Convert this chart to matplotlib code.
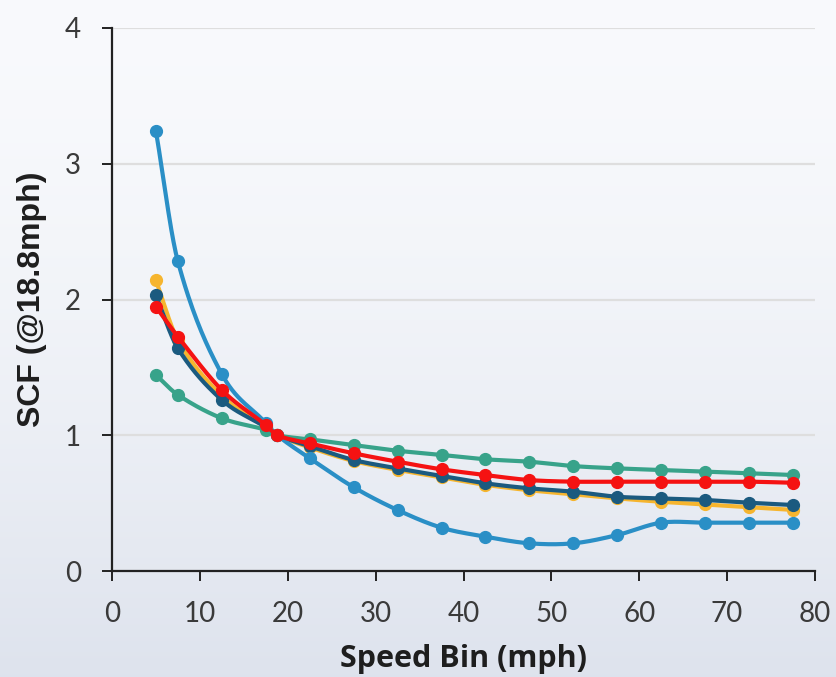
import numpy as np
import matplotlib
matplotlib.use("Agg")
import matplotlib.pyplot as plt

# speed bins (mph); 18.8 is the reference speed where every series = 1
speed = np.array([5, 7.5, 12.5, 17.5, 18.8, 22.5, 27.5, 32.5, 37.5, 42.5,
                  47.5, 52.5, 57.5, 62.5, 67.5, 72.5, 77.5])

scf_yellow = [2.14, 1.70, 1.29, 1.06, 1.0, 0.91, 0.81, 0.745, 0.69, 0.635,
              0.595, 0.565, 0.535, 0.51, 0.49, 0.47, 0.45]
scf_navy = [2.03, 1.64, 1.26, 1.06, 1.0, 0.92, 0.818, 0.756, 0.70, 0.646,
            0.609, 0.584, 0.547, 0.535, 0.523, 0.503, 0.486]
scf_blue = [3.24, 2.28, 1.45, 1.09, 1.0, 0.83, 0.617, 0.449, 0.319, 0.253,
            0.204, 0.204, 0.265, 0.356, 0.356, 0.356, 0.356]
scf_green = [1.444, 1.297, 1.125, 1.04, 1.0, 0.97, 0.928, 0.886, 0.855, 0.823,
             0.805, 0.773, 0.756, 0.744, 0.732, 0.72, 0.707]
scf_red = [1.947, 1.726, 1.333, 1.075, 1.0, 0.94, 0.867, 0.805, 0.749, 0.707,
           0.670, 0.658, 0.658, 0.658, 0.658, 0.658, 0.65]

series = [
    (scf_yellow, "#f6b52e"),
    (scf_navy, "#1b5a7f"),
    (scf_blue, "#2a8fc6"),
    (scf_green, "#38a38a"),
    (scf_red, "#f51212"),
]


def smooth(x, y, n=30):
    # cubic hermite with catmull-rom style tangents, just for drawing the line
    x = np.asarray(x, float)
    y = np.asarray(y, float)
    m = np.zeros_like(y)
    m[1:-1] = (y[2:] - y[:-2]) / (x[2:] - x[:-2])
    m[0] = (y[1] - y[0]) / (x[1] - x[0])
    m[-1] = (y[-1] - y[-2]) / (x[-1] - x[-2])
    xs, ys = [], []
    for i in range(len(x) - 1):
        h = x[i + 1] - x[i]
        t = np.linspace(0, 1, n, endpoint=False)
        h00 = 2 * t**3 - 3 * t**2 + 1
        h10 = t**3 - 2 * t**2 + t
        h01 = -2 * t**3 + 3 * t**2
        h11 = t**3 - t**2
        xs.append(x[i] + t * h)
        ys.append(h00 * y[i] + h10 * h * m[i] + h01 * y[i + 1] + h11 * h * m[i + 1])
    xs.append([x[-1]])
    ys.append([y[-1]])
    return np.concatenate(xs), np.concatenate(ys)


fig = plt.figure(figsize=(8.36, 6.77), dpi=100)

# soft background gradient
bg = fig.add_axes([0, 0, 1, 1], zorder=-5)
grad = np.linspace(0, 1, 256).reshape(-1, 1)
top = np.array([0.975, 0.98, 0.99])
bot = np.array([0.87, 0.89, 0.93])
img = top + (bot - top) * grad[:, :, None] ** 1.6
bg.imshow(img, aspect="auto", extent=[0, 1, 0, 1], origin="upper")
bg.axis("off")

ax = fig.add_axes([112 / 836, 1 - 571 / 677, (815 - 112) / 836, (571 - 28) / 677])
ax.patch.set_alpha(0)

for vals, col in series:
    sx, sy = smooth(speed, vals)
    ax.plot(sx, sy, color=col, lw=3, solid_capstyle="round", zorder=3)
    ax.plot(speed, vals, "o", color=col, ms=8.5, zorder=3)

ax.set_xlim(0, 80)
ax.set_ylim(0, 4)
ax.set_xticks(range(0, 81, 10))
ax.set_yticks(range(0, 5))
ax.grid(axis="y", color="#dedede", lw=1.6, zorder=0)
ax.set_axisbelow(True)

for s in ["top", "right"]:
    ax.spines[s].set_visible(False)
for s in ["left", "bottom"]:
    ax.spines[s].set_color("#222222")
    ax.spines[s].set_linewidth(1.6)

ax.tick_params(axis="both", direction="out", length=7.5, width=1.4, color="#222222",
               labelsize=20, labelcolor="#3a3a3a")
ax.tick_params(axis="x", pad=14)
ax.tick_params(axis="y", pad=15)
for lab in ax.get_xticklabels() + ax.get_yticklabels():
    lab.set_family("Lato")

ax.set_xlabel("Speed Bin (mph)", family="Open Sans", fontweight="bold", fontsize=22,
              color="#1e1e1e", labelpad=12)
ax.set_ylabel("SCF (@18.8mph)", family="Liberation Sans", fontweight="bold", fontsize=23,
              color="#1e1e1e", labelpad=13)

fig.savefig("out.png", dpi=100)
